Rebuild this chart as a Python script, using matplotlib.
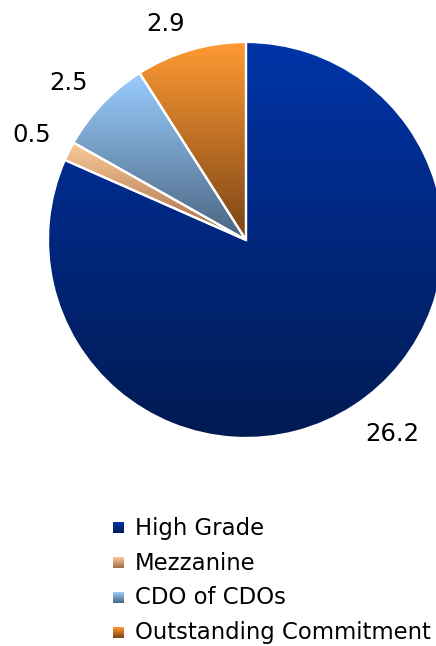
import numpy as np
import matplotlib.pyplot as plt
from matplotlib.colors import LinearSegmentedColormap

labels = ["High Grade", "Mezzanine", "CDO of CDOs", "Outstanding Commitment"]
values = [26.2, 0.5, 2.5, 2.9]
# top / bottom colours of each wedge's vertical gradient
top_colors = ["#0034a8", "#fcca98", "#9acdff", "#ff9a33"]
bottom_colors = ["#001a52", "#a06a45", "#4a6480", "#7a4416"]

W, H = 436, 646
fig = plt.figure(figsize=(W / 100, H / 100), dpi=100)
ax = fig.add_axes([0, 0, 1, 1])

cx, cy, R = 246, H - 240, 198

wedges, texts = ax.pie(values, labels=[f"{v}" for v in values],
                       startangle=90, counterclock=False,
                       center=(cx, cy), radius=R, labeldistance=1.1,
                       frame=True,
                       wedgeprops=dict(edgecolor="white", linewidth=1.6),
                       textprops=dict(fontsize=17.5, color="black"))
# anchor the corner of each label nearest the pie centre
for t in texts:
    x, y = t.get_position()
    t.set_ha("right" if x < cx else "left")
    t.set_va("baseline" if y > cy else "top")

ax.set_xlim(0, W)
ax.set_ylim(0, H)
ax.set_aspect("equal")
ax.axis("off")


def gradient_fill(ax, x0, x1, y0, y1, c_top, c_bot, clip=None, zorder=1):
    cmap = LinearSegmentedColormap.from_list("g", [c_bot, c_top])
    grad = np.linspace(0, 1, 256).reshape(-1, 1)
    im = ax.imshow(grad, cmap=cmap, origin="lower", aspect="auto",
                   extent=(x0, x1, y0, y1), zorder=zorder)
    if clip is not None:
        im.set_clip_path(clip)
    return im


for w, ct, cb in zip(wedges, top_colors, bottom_colors):
    w.set_facecolor("none")
    w.set_zorder(3)
    ext = w.get_path().get_extents(w.get_transform() - ax.transData)
    gradient_fill(ax, ext.x0, ext.x1, ext.y0, ext.y1, ct, cb, clip=w, zorder=2)

# legend with gradient squares
row_y = [H - 528, H - 563, H - 598, H - 633]
sq = 11
for lab, ct, cb, y in zip(labels, top_colors, bottom_colors, row_y):
    gradient_fill(ax, 113, 113 + sq, y - sq / 2, y + sq / 2, ct, cb, zorder=4)
    ax.text(135, y, lab, fontsize=16.4, va="center", ha="left", color="black")

ax.set_xlim(0, W)
ax.set_ylim(0, H)
fig.savefig("out.png", dpi=100)
